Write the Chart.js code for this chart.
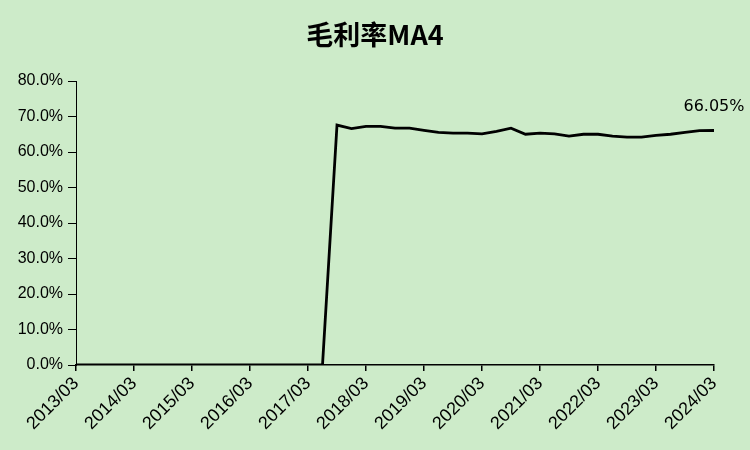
<!DOCTYPE html>
<html>
<head>
<meta charset="utf-8">
<script src="https://cdn.jsdelivr.net/npm/chart.js@4/dist/chart.umd.min.js"></script>
<style>
  html, body { margin: 0; padding: 0; background: #cdebc9; }
  #wrap { width: 750px; height: 450px; }
</style>
</head>
<body>
<div id="wrap"><canvas id="myChart"></canvas></div>
<script>
// quarters 2013/03 .. 2024/03
var years = ['2013','2014','2015','2016','2017','2018','2019','2020','2021','2022','2023','2024'];
var months = ['03','06','09','12'];
var labels = [];
for (var y = 0; y < years.length; y++) {
  for (var m = 0; m < months.length; m++) {
    if (years[y] === '2024' && m > 0) break;
    labels.push(years[y] + '/' + months[m]);
  }
}

var grossMarginMA4 = [
  0, 0, 0, 0, 0, 0, 0, 0, 0, 0, 0, 0, 0, 0, 0, 0, 0, 0,
  67.6, 66.6, 67.2, 67.2, 66.7, 66.7, 66.1, 65.5, 65.3, 65.3, 65.1, 65.8,
  66.7, 65.0, 65.3, 65.1, 64.5, 65.0, 65.0, 64.5, 64.2, 64.2, 64.7, 65.0,
  65.5, 66.0, 66.05
];
var yTicks = [0, 10, 20, 30, 40, 50, 60, 70, 80];
var chartTitle = '毛利率MA4';

var bgPlugin = {
  id: 'bg',
  beforeDraw: function (chart) {
    var c = chart.ctx;
    c.save();
    c.fillStyle = '#cdebc9';
    c.fillRect(0, 0, chart.width, chart.height);
    c.font = 'bold 27px "Noto Sans CJK SC", sans-serif';
    c.fillStyle = '#000';
    c.textAlign = 'center';
    c.textBaseline = 'middle';
    c.fillText(chartTitle, chart.width / 2, 35);
    c.restore();
  }
};

var lastLabel = {
  id: 'lastLabel',
  afterDatasetsDraw: function (chart) {
    var meta = chart.getDatasetMeta(0);
    var pt = meta.data[meta.data.length - 1];
    var c = chart.ctx;
    c.save();
    c.font = '16px "DejaVu Sans", sans-serif';
    c.fillStyle = '#000';
    c.textAlign = 'center';
    c.textBaseline = 'alphabetic';
    c.fillText(grossMarginMA4[grossMarginMA4.length - 1].toFixed(2) + '%', pt.x, pt.y - 20);
    c.restore();
  }
};

var ctx = document.getElementById('myChart');
new Chart(ctx, {
  type: 'line',
  data: {
    labels: labels,
    datasets: [{
      data: grossMarginMA4,
      borderColor: '#000',
      borderWidth: 2.8,
      pointRadius: 0,
      tension: 0,
      fill: false
    }]
  },
  options: {
    responsive: true,
    maintainAspectRatio: false,
    animation: false,
    layout: { padding: { left: 0, right: 36, top: 81, bottom: 0 } },
    plugins: {
      legend: { display: false },
      tooltip: { enabled: false },
      title: { display: false }
    },
    scales: {
      x: {
        offset: false,
        border: { color: '#000', width: 1.5 },
        grid: {
          display: true, drawOnChartArea: false, drawTicks: true, tickLength: 6, lineWidth: 1.5,
          color: function (c) { return c.index % 4 === 0 ? '#000' : 'rgba(0,0,0,0)'; }
        },
        ticks: {
          color: '#000',
          autoSkip: false,
          maxRotation: 45,
          minRotation: 45,
          padding: 2,
          font: { size: 18, family: '"Liberation Sans Narrow", "Liberation Sans", sans-serif' },
          callback: function (v, i) { return i % 4 === 0 ? labels[i] : ''; }
        },
        afterFit: function (s) { s.height = 85; }
      },
      y: {
        min: 0,
        max: 80,
        border: { color: '#000', width: 1 },
        grid: { display: true, drawOnChartArea: false, drawTicks: true, tickLength: 8, color: '#000' },
        afterBuildTicks: function (s) { s.ticks = yTicks.map(function (v) { return { value: v }; }); },
        ticks: {
          color: '#000',
          padding: 5,
          font: { size: 16, family: '"Liberation Sans Narrow", "Liberation Sans", sans-serif' },
          callback: function (v) { return v.toFixed(1) + '%'; }
        },
        afterFit: function (s) { s.width = 76; }
      }
    }
  },
  plugins: [bgPlugin, lastLabel]
});
</script>
</body>
</html>
